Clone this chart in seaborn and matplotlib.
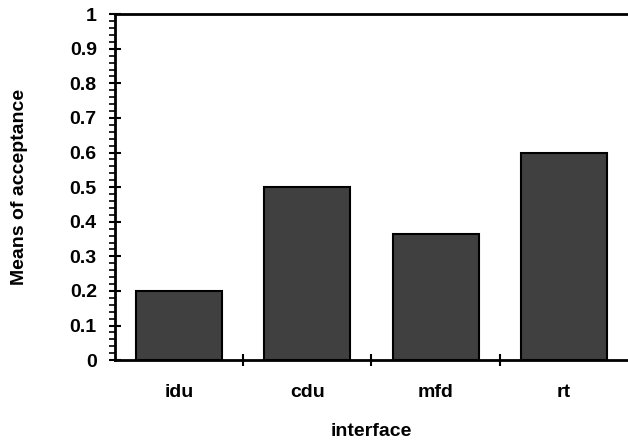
import pandas as pd
import matplotlib
matplotlib.use("Agg")
import matplotlib.pyplot as plt
import seaborn as sns
from matplotlib.ticker import MultipleLocator, FuncFormatter

interfaces = ["idu", "cdu", "mfd", "rt"]
acceptance = [0.2, 0.5, 0.365, 0.6]

data = pd.DataFrame({"interface": interfaces, "acceptance": acceptance})

sns.set_style("white")
plt.rcParams["font.family"] = ["Liberation Sans", "DejaVu Sans"]
plt.rcParams["font.weight"] = "bold"
plt.rcParams["text.color"] = "black"
plt.rcParams["axes.labelcolor"] = "black"
plt.rcParams["xtick.color"] = "black"
plt.rcParams["ytick.color"] = "black"

fig = plt.figure(figsize=(6.28, 4.43), dpi=100)
ax = fig.add_axes([0.183, 0.187, 0.817, 0.781])

sns.barplot(data=data, x="interface", y="acceptance", color="#404040",
            saturation=1, width=0.67, edgecolor="black", linewidth=1.5, ax=ax)

ax.set_xlim(-0.5, 3.5)
ax.set_ylim(0, 1)
ax.yaxis.set_major_locator(MultipleLocator(0.1))
ax.yaxis.set_minor_locator(MultipleLocator(0.02))
ax.yaxis.set_major_formatter(FuncFormatter(lambda v, p: f"{round(v, 1):g}"))
for lab in ax.get_yticklabels():
    lab.set_fontweight("bold")
ax.tick_params(axis="y", which="major", labelsize=14)

# category labels centred, tick marks at boundaries
ax.set_xticks([0.5, 1.5, 2.5], minor=False)
ax.set_xticklabels([])
ax.set_xticks(range(len(interfaces)), minor=True)
ax.set_xticklabels(interfaces, minor=True, fontsize=14, fontweight="bold")
ax.tick_params(axis="x", which="minor", length=0, pad=17)
ax.tick_params(axis="x", which="major", direction="inout", length=8, width=1.5)
ax.tick_params(axis="y", which="major", direction="inout", length=8, width=1.5, pad=9)
ax.tick_params(axis="y", which="minor", direction="out", length=4, width=1.2)
ax.tick_params(left=True, bottom=True)
ax.tick_params(axis="y", which="minor", left=True)

for side in ["left", "bottom", "top"]:
    ax.spines[side].set_visible(True)
    ax.spines[side].set_color("black")
    ax.spines[side].set_linewidth(2)
ax.spines["right"].set_visible(False)

ax.set_xlabel("interface", fontsize=14, fontweight="bold", labelpad=16)
ax.set_ylabel("Means of acceptance", fontsize=14, fontweight="bold", labelpad=30)

fig.savefig("out.png", dpi=100)
